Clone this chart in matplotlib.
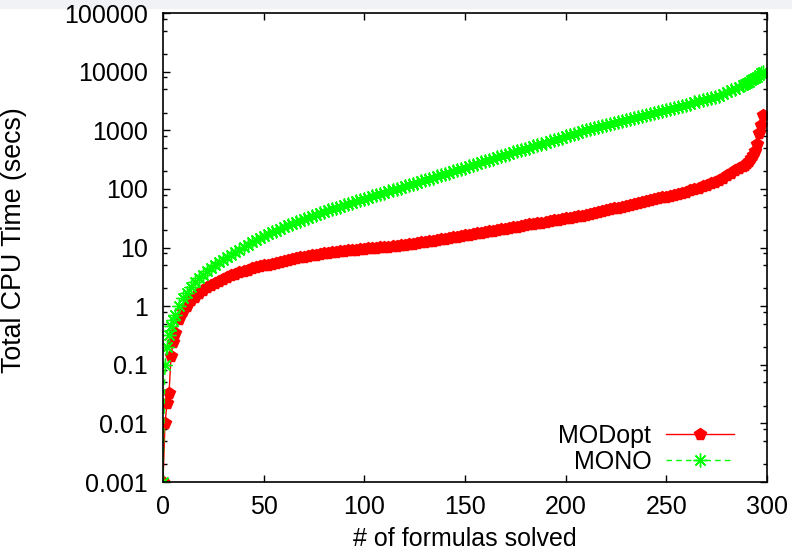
import matplotlib
matplotlib.use("Agg")
import matplotlib.pyplot as plt
from matplotlib.patches import Rectangle
from matplotlib.ticker import LogLocator, FixedLocator, NullFormatter

plt.rcParams['font.family'] = ['Liberation Sans', 'DejaVu Sans']

# formulas solved (same x positions for both runs)
solved = ([0, 1, 2, 3, 4, 5, 6] + list(range(8, 289, 2))
          + [289, 290, 291, 292, 293, 294, 295, 296, 297, 298])

# cumulative CPU time
modopt = [0.001, 0.01, 0.022, 0.033, 0.14, 0.24, 0.35,
          0.6, 0.82, 1.02, 1.25, 1.45, 1.68, 1.9, 2.1, 2.3, 2.5, 2.72, 2.95, 3.2,
          3.4, 3.6, 3.8, 4.0, 4.2, 4.4, 4.6, 4.8, 4.95, 5.1, 5.3, 5.5, 5.7, 5.9,
          6.1, 6.3, 6.55, 6.8, 7.0, 7.2, 7.4, 7.6, 7.8, 8.0, 8.15, 8.3, 8.45, 8.6,
          8.8, 8.95, 9.1, 9.25, 9.4, 9.6,
          9.7, 9.85, 10.0, 10.1, 10.25, 10.4, 10.55, 10.7, 10.85, 11.0,
          11.3, 11.6, 11.9, 12.2, 12.5, 12.8, 13.1,
          13.4, 13.8, 14.2, 14.6, 15.0, 15.4, 15.8, 16.2,
          16.6, 17.0, 17.5, 17.9, 18.4, 18.9, 19.4, 19.9, 20.4, 21.0,
          21.6, 22.2, 22.8, 23.4, 24.0, 24.7, 25.3, 26.0, 26.7, 27.5,
          28.2, 29.0, 29.8, 30.6, 31.4, 32.3, 33.2, 34.1, 35.0, 36.0,
          37.3, 38.7, 40.1, 41.6, 43.1, 44.7, 46.3, 48.0, 49.8, 51.6,
          53.5, 55.5, 57.5, 59.6, 61.8, 64.1, 66.4, 68.9, 71.4, 74.0,
          76.8, 79.7, 82.7, 85.8, 89.0,
          94, 99.5, 105, 111, 117, 124, 131,
          141, 155, 170, 187, 206, 226, 248,
          260, 275, 300, 330, 380, 450, 580, 900, 1250, 1800]

mono = [0.001, 0.1, 0.2, 0.32, 0.45, 0.58, 0.72,
        1.0, 1.35, 1.7, 2.1, 2.6, 3.0, 3.4, 3.9, 4.4, 5.0, 5.6, 6.2, 6.9,
        7.6, 8.3, 9.2, 10.1, 11.1, 12.2, 13.4, 14.8,
        15.9, 17.0, 18.2, 19.5, 20.9, 22.4,
        23.8, 25.2, 26.8, 28.4, 30.2, 32.1, 34.0, 36.1, 38.4, 40.7,
        42.9, 45.1, 47.4, 49.9, 52.5, 55.2, 58.1, 61.1, 64.3, 67.6,
        71.0, 74.5, 78.2, 82.0, 86.1, 90.4, 94.8, 99.5, 104, 110,
        115, 121, 127, 134, 141, 148, 155, 163, 171, 180,
        190, 199, 209, 220, 231, 243, 255, 268, 282, 296,
        312, 327, 344, 361, 380,
        399, 419, 440, 461, 484, 508, 533, 560, 587, 617,
        647, 679, 713, 748, 785, 824, 865, 908, 953, 1000,
        1040, 1080, 1125, 1170, 1215, 1265, 1315, 1370, 1420, 1480,
        1540, 1600, 1665, 1730, 1800, 1870, 1945, 2020, 2105, 2190,
        2285, 2390, 2500, 2610, 2730, 2850, 2980, 3120, 3260, 3400,
        3560, 3720, 3890, 4170, 4470, 4790, 5130, 5500, 5960,
        6170, 6460, 6760, 7080, 7410, 7760, 8130, 8710, 9330, 10000]

fs = 18
fig = plt.figure(figsize=(7.92, 5.52), dpi=100)
# faint grey strip along the top edge, as in the screenshot
fig.patches.append(Rectangle((0, 0.985), 1, 0.015, transform=fig.transFigure,
                             color='#f1f2f6', zorder=-5))
ax = fig.add_axes([0.2058, 0.1268, 0.7626, 0.8496])

ax.plot(solved, modopt, color='#ff0000', lw=1, marker='p', ms=8.5,
        mec='#ff0000', mfc='#ff0000', label='MODopt')
ax.plot(solved, mono, color='#00ff00', lw=1, ls=(0, (4, 3)), marker=(8, 2, 0),
        ms=10, mec='#00ff00', mew=1, label='MONO')

ax.set_yscale('log')
ax.set_xlim(0, 300)
ax.set_ylim(0.001, 100000)
ax.xaxis.set_major_locator(FixedLocator([0, 50, 100, 150, 200, 250, 300]))
ax.yaxis.set_major_locator(FixedLocator([0.001, 0.01, 0.1, 1, 10, 100, 1000, 10000, 100000]))
ax.set_yticklabels(['0.001', '0.01', '0.1', '1', '10', '100', '1000', '10000', '100000'])
ax.yaxis.set_minor_locator(LogLocator(base=10, subs=[2, 5, 8], numticks=20))
ax.yaxis.set_minor_formatter(NullFormatter())

ax.tick_params(which='both', direction='in', top=True, right=True, width=1, colors='black')
ax.tick_params(which='major', length=5)
ax.tick_params(which='minor', length=3)
ax.tick_params(axis='x', labelsize=fs, pad=9)
ax.tick_params(axis='y', labelsize=fs, pad=11)
for s in ax.spines.values():
    s.set_linewidth(1.2)

ax.set_xlabel('# of formulas solved', fontsize=fs, labelpad=6)
ax.set_ylabel('Total CPU Time (secs)', fontsize=19.3)
ax.yaxis.set_label_coords(-0.225, 0.516)

ax.legend(loc='lower right', frameon=False, markerfirst=False, fontsize=fs,
          handlelength=2.7, handletextpad=0.6, labelspacing=0.1,
          borderaxespad=0.2, bbox_to_anchor=(0.97, -0.015))

fig.savefig('out.png', dpi=100)
